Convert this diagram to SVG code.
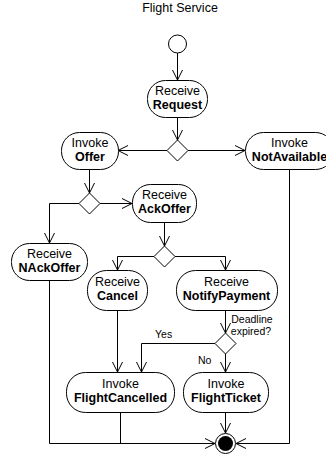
<svg xmlns="http://www.w3.org/2000/svg" width="326" height="456" viewBox="0 0 326 456">
<style>
text{font-family:"Liberation Sans",Arial,sans-serif;fill:#000}
.t{font-size:12.5px;text-anchor:middle}
.b{font-weight:bold}
.g{font-size:10.5px}
.n{fill:#fff;stroke:#000;stroke-width:1}
.c{fill:none;stroke:#000;stroke-width:1}
</style>
<defs>
<marker id="a" markerUnits="userSpaceOnUse" markerWidth="12" markerHeight="12" refX="10" refY="5" orient="auto" viewBox="0 0 12 10" overflow="visible">
<path d="M0,0 L10,5 L0,10" fill="none" stroke="#000" stroke-width="1"/>
</marker>
</defs>
<rect width="326" height="456" fill="#fff"/>
<text class="t" x="180" y="12">Flight Service</text>
<g id="connectors" class="c">
<path d="M177.5,53 V80" marker-end="url(#a)"/>
<path d="M177.5,117 V140" marker-end="url(#a)"/>
<path d="M167,150.5 H118" marker-end="url(#a)"/>
<path d="M188,150.5 H245" marker-end="url(#a)"/>
<path d="M89.5,169 V193" marker-end="url(#a)"/>
<path d="M79,203.5 H49.5 V243" marker-end="url(#a)"/>
<path d="M100,203.5 H132" marker-end="url(#a)"/>
<path d="M164.5,222 V246" marker-end="url(#a)"/>
<path d="M154,256.5 H117.5 V270" marker-end="url(#a)"/>
<path d="M175,256.5 H225.5 V270" marker-end="url(#a)"/>
<path d="M225.5,310 V333" marker-end="url(#a)"/>
<path d="M215,343.5 H141.5 V372" marker-end="url(#a)"/>
<path d="M225.5,354 V372" marker-end="url(#a)"/>
<path d="M117.5,310 V372" marker-end="url(#a)"/>
<path d="M225.5,412 V433" marker-end="url(#a)"/>
<path d="M49.5,280 V443.5 H215" marker-end="url(#a)"/>
<path d="M120.5,412 V443.5"/>
<path d="M289.5,169 V443.5 H236" marker-end="url(#a)"/>
</g>
<g id="start"><circle class="n" cx="177.5" cy="44" r="9"/></g>
<g id="d1"><path class="n" d="M177.5,140 L188,150.5 L177.5,161 L167,150.5 Z"/></g>
<g id="d2"><path class="n" d="M89.5,193 L100,203.5 L89.5,214 L79,203.5 Z"/></g>
<g id="d3"><path class="n" d="M164.5,246 L175,256.5 L164.5,267 L154,256.5 Z"/></g>
<g id="d4"><path class="n" d="M225.5,333 L236,343.5 L225.5,354 L215,343.5 Z"/></g>
<g id="request"><rect class="n" x="147.5" y="80.5" width="60" height="37" rx="18"/><text class="t" x="177.5" y="95">Receive</text><text class="t b" x="177.5" y="109">Request</text></g>
<g id="offer"><rect class="n" x="61.5" y="132.5" width="57" height="37" rx="18"/><text class="t" x="90" y="147">Invoke</text><text class="t b" x="90" y="161">Offer</text></g>
<g id="notavailable"><rect class="n" x="245.5" y="132.5" width="88" height="37" rx="18"/><text class="t" x="289.5" y="147">Invoke</text><text class="t b" x="289.5" y="161">NotAvailable</text></g>
<g id="ackoffer"><rect class="n" x="132.5" y="184.5" width="64" height="38" rx="18"/><text class="t" x="164.5" y="199">Receive</text><text class="t b" x="164.5" y="213">AckOffer</text></g>
<g id="nackoffer"><rect class="n" x="11.5" y="243.5" width="76" height="37" rx="18"/><text class="t" x="49.5" y="258">Receive</text><text class="t b" x="49.5" y="272">NAckOffer</text></g>
<g id="cancel"><rect class="n" x="87.5" y="270.5" width="60" height="40" rx="19"/><text class="t" x="117.5" y="286">Receive</text><text class="t b" x="117.5" y="300">Cancel</text></g>
<g id="notifypayment"><rect class="n" x="176.5" y="270.5" width="101" height="40" rx="19"/><text class="t" x="226.5" y="286">Receive</text><text class="t b" x="226.5" y="300">NotifyPayment</text></g>
<g id="flightcancelled"><rect class="n" x="66.5" y="372.5" width="108" height="40" rx="19"/><text class="t" x="120.5" y="388">Invoke</text><text class="t b" x="120.5" y="402">FlightCancelled</text></g>
<g id="flightticket"><rect class="n" x="183.5" y="372.5" width="85" height="40" rx="19"/><text class="t" x="226" y="388">Invoke</text><text class="t b" x="226" y="402">FlightTicket</text></g>
<g id="end"><circle class="n" cx="225.5" cy="443.5" r="10"/><circle cx="225.5" cy="443.5" r="7.5" fill="#000"/></g>
<g id="labels">
<text class="g" x="252" y="323" text-anchor="middle">Deadline</text>
<text class="g" x="251" y="335" text-anchor="middle">expired?</text>
<text class="g" x="155" y="338">Yes</text>
<text class="g" x="198" y="364">No</text>
</g>
</svg>
